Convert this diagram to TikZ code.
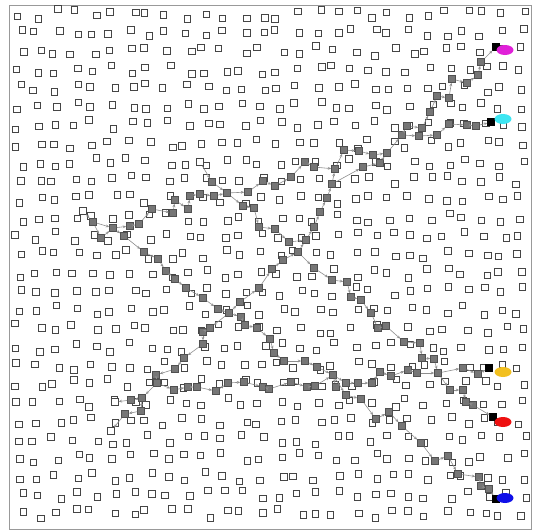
\documentclass[tikz,border=0pt]{standalone}
\usetikzlibrary{arrows.meta,shapes.geometric}
\definecolor{sqc}{HTML}{454545}
\definecolor{hopfill}{HTML}{767676}
\definecolor{hopdraw}{HTML}{505050}
\definecolor{linkc}{HTML}{8E8E8E}
\definecolor{gmag}{HTML}{E020D8}
\definecolor{gcyan}{HTML}{3EE6F2}
\definecolor{gyel}{HTML}{F2C020}
\definecolor{gred}{HTML}{EE1010}
\definecolor{gblue}{HTML}{1010E8}
\begin{document}
\begin{tikzpicture}[x=1pt,y=-1pt,
  opensq/.style={draw=sqc,line width=0.8pt},
  sens/.style={draw=sqc,line width=0.8pt,fill=white,minimum size=6.5pt,inner sep=0pt},
  hop/.style={draw=hopdraw,fill=hopfill,line width=0.6pt,minimum size=7pt,inner sep=0pt},
  sinksq/.style={draw=black,fill=black,minimum size=7pt,inner sep=0pt},
  goal/.style={ellipse,minimum width=17pt,minimum height=10pt,inner sep=0pt},
  link/.style={draw=linkc,line width=0.6pt,-{Stealth[length=3.4pt,width=2.8pt]}}]
\useasboundingbox (0,0) rectangle (539,531);
\fill[white] (0,0) rectangle (539,531);
\draw[black!40,line width=0.8pt] (9,5) rectangle (531,529);
% scattered sensors
\pgfmathsetseed{271}
\foreach \i in {0,...,27}{\foreach \j in {0,...,27}{
  \pgfmathsetmacro\xx{19+\i*18.6+5.5*rand}
  \pgfmathsetmacro\yy{14+\j*18.5+5*rand}
  \draw[opensq] (\xx-3.25,\yy-3.25) rectangle ++(6.5,6.5);
}}
% relay sensors on the routes
\foreach \n/\x/\y in {r/93/222, a1/101/238, a2/113/228, a3/124/236, a4/130/226, a5/139/224, a6/152/209, a7/173/213, a8/175/200, a9/188/209, a10/190/196, a11/200/194, a12/214/196, a13/227/193, b1/212/182, a14/248/192, a15/263/181, a16/275/186, a17/291/177, a18/305/162, a19/314/167, a20/335/169, a21/344/150, a22/359/151, a23/373/155, a24/387/153, a25/402/135, c1/419/136, c2/437/135, c3/449/124, c4/467/125, c5/476/126, m1/407/126, m2/422/128, m3/430/112, m4/437/96, m5/449/98, m6/452/79, m7/467/83, m8/478/75, m9/481/62, d1/243/206, d2/254/208, d3/259/227, d4/275/229, d5/289/242, d6/306/240, d7/314/227, d8/320/212, d9/327/198, d10/332/184, e1/363/167, e2/380/163, f1/144/252, f2/158/259, f3/166/271, f4/175/279, f5/186/288, f6/203/298, f7/218/309, f8/229/313, g1/240/302, g2/259/288, g3/272/269, g4/283/260, g5/298/252, h1/314/268, h2/332/280, h3/347/282, h4/351/297, h5/361/300, h6/371/313, h7/378/328, h8/386/326, h9/404/342, h10/420/343, h11/422/358, h12/434/359, h13/438/373, y1/463/368, y2/478/374, q1/450/390, q2/463/390, q3/466/402, q4/473/405, i1/241/317, i2/245/325, i3/257/328, i4/270/339, i5/274/353, i6/284/361, i7/305/361, i8/317/367, i9/333/375, j1/346/383, j2/358/383, j3/372/383, j4/380/372, j5/391/376, j6/408/370, j7/417/373, k0/336/387, k1/346/395, k2/361/399, k3/376/419, k4/389/412, k5/402/426, k6/421/443, k7/435/461, k8/448/456, k9/458/474, k10/479/477, k11/481/486, k12/489/489, l1/210/328, l2/203/332, l3/203/344, l4/184/358, l5/175/369, l6/156/375, l7/157/383, n1/142/398, n2/131/400, n3/141/411, n4/125/414, p1/174/390, p2/188/387, p3/197/387, p4/216/391, p5/228/383, p6/244/382, p7/263/387, p8/269/389, p9/291/382, p10/307/387, p11/315/386}
  \node[hop] (\n) at (\x,\y) {};
\foreach \n/\x/\y in {o1/200/162, o2/83/211, o3/115/402, o4/111/431}
  \node[sens] (\n) at (\x,\y) {};
\foreach \n/\x/\y in {mb/496/47, cb/491/122, yb/489/368, rb/493/417, bb/496/499}
  \node[sinksq] (\n) at (\x,\y) {};
% links
\foreach \a/\b in {o2/r, r/a1, r/a2, a1/a2, a2/a3, a2/a4, a4/a5, a5/a6, a6/a7, a7/a8, a8/a9, a9/a10, a10/a11, a11/a12, a12/a13, o1/b1, b1/a13, a13/a14, a14/a15, a15/a16, a16/a17, a17/a18, a18/a19, a19/a20, a20/a21, a21/a22, a22/a23, a23/a24, a24/a25, a25/c1, c1/c2, c2/c3, c3/c4, c4/c5, c5/cb, a25/m1, m1/m2, m2/m3, m3/m4, m4/m5, m5/m6, m6/m7, m7/m8, m8/m9, m9/mb, a13/d1, d1/d2, d2/d3, d3/d4, d4/d5, d5/d6, d6/d7, d7/d8, d8/d9, d9/d10, d10/a20, d10/e1, e1/e2, e2/a24, a3/f1, f1/f2, f2/f3, f3/f4, f4/f5, f5/f6, f6/f7, f7/f8, f8/g1, g1/g2, g2/g3, g3/g4, g4/g5, g5/d6, g5/h1, h1/h2, h2/h3, h3/h4, h4/h5, h5/h6, h6/h7, h7/h8, h8/h9, h9/h10, h10/h11, h11/h12, h12/h13, h13/y1, y1/y2, y2/yb, h13/q1, q1/q2, q2/q3, q3/q4, q4/rb, f8/i1, i1/i2, i2/i3, i3/i4, i4/i5, i5/i6, i6/i7, i7/i8, i8/i9, i9/j1, j1/j2, j2/j3, j3/j4, j4/j5, j5/j6, j6/j7, j7/h13, i9/k0, i9/k1, k1/k2, k2/k3, k3/k4, k4/k5, k5/k6, k6/k7, k7/k8, k8/k9, k9/k10, k10/k11, k11/k12, k12/bb, f8/l1, l1/l2, l2/l3, l3/l4, l4/l5, l5/l6, l6/l7, l7/n1, n1/n2, n2/o3, n1/n3, n3/n4, n4/o4, l7/p1, p1/p2, p2/p3, p3/p4, p4/p5, p5/p6, p6/p7, p7/p8, p8/p9, p9/p10, p10/p11, p11/i9}
  \draw[link] (\a) -- (\b);
% goals
\node[goal,fill=gmag] (gm) at (505,50) {};
\node[goal,fill=gcyan] (gc) at (503,119) {};
\node[goal,fill=gyel] (gy) at (503,372) {};
\node[goal,fill=gred] (gr) at (503,422) {};
\node[goal,fill=gblue] (gb) at (505,498) {};
\end{tikzpicture}
\end{document}
